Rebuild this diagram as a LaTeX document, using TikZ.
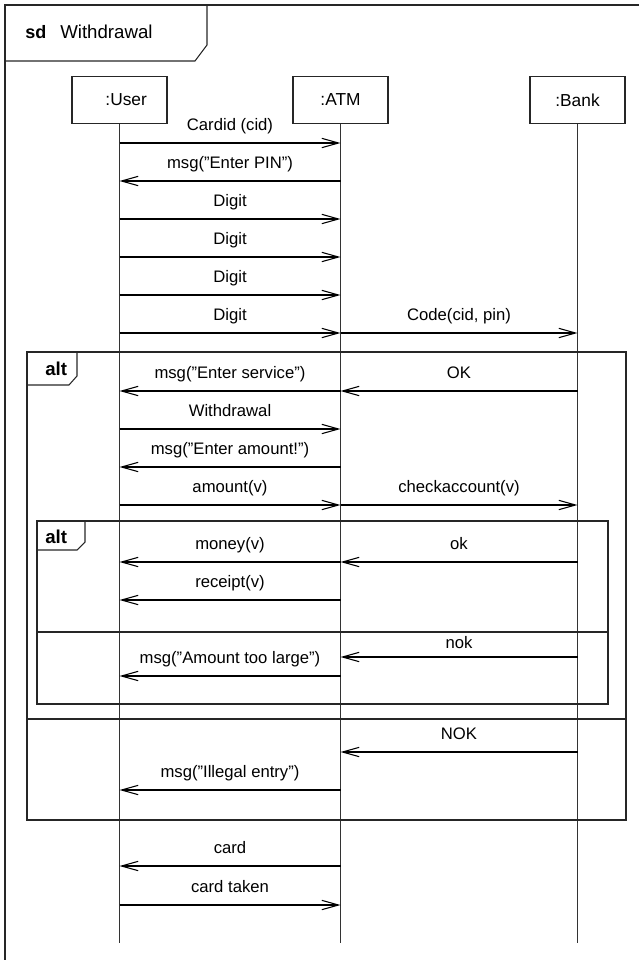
\documentclass[tikz,border=0pt]{standalone}
\usepackage{fontspec}
\setmainfont{Liberation Sans}
\usetikzlibrary{arrows.meta}
\tikzset{
  ln/.style={line width=0.8pt, draw=black!85},
  head/.style={ln, minimum width=71.25pt, minimum height=35.25pt, inner sep=0pt,
    font=\fontsize{13}{15}\selectfont},
  lifeline/.style={line width=0.8pt, draw=black!80},
  msg/.style={line width=0.8pt, draw=black, -{Straight Barb[length=12.5pt, width=7pt, line width=0.8pt]}},
  lbl/.style={anchor=base, inner sep=0pt, font=\fontsize{12.5}{15}\selectfont, text=black},
  frm/.style={line width=0.8pt, draw=black!85},
  kw/.style={anchor=base west, inner sep=0pt, font=\fontsize{14}{16}\selectfont\bfseries},
}
\newcommand\msgline[5]{% from, to, y, label, label raise
  \draw[msg] (#1 |- 0,#3) -- (#2 |- 0,#3) node[lbl, pos=0.5, yshift=#5] {#4};}
\begin{document}
\begin{tikzpicture}[x=0.75pt, y=-0.75pt]
\useasboundingbox (0,0) rectangle (639,960);
% outer sd frame
\draw[frm] (639,5) -- (5,5) -- (5,960);
\draw[frm] (5,61) -- (195,61) -- (207,45) -- (207,5);
\node[kw, font=\fontsize{13.5}{16}\selectfont\bfseries] (sdkw) at (25,38) {sd};
\node[anchor=base west, inner sep=0pt, font=\fontsize{14}{16}\selectfont] (sdname) at (60,38) {Withdrawal};
% lifeline heads
\node[head] (U) at (119.5,100) {\hspace*{10pt}:User};
\node[head] (A) at (340.5,100) {:ATM};
\node[head] (B) at (577.5,100) {:Bank};
\coordinate (Uend) at (119.5,943);
\coordinate (Aend) at (340.5,943);
\coordinate (Bend) at (577.5,943);
\draw[lifeline] (U.south) -- (Uend);
\draw[lifeline] (A.south) -- (Aend);
\draw[lifeline] (B.south) -- (Bend);
% outer alt
\draw[frm] (27,352) rectangle (626,820);
\draw[frm] (27,385) -- (69,385) -- (77,376) -- (77,352);
\draw[frm] (27,719) -- (626,719);
\node[kw] (alt1) at (45,375) {alt};
% inner alt
\draw[frm] (37,521) rectangle (608,704);
\draw[frm] (37,550) -- (77,550) -- (85,542) -- (85,521);
\draw[frm] (37,632) -- (608,632);
\node[kw] (alt2) at (45,543) {alt};
% messages
\msgline{U}{A}{143}{Cardid (cid)}{9.75pt}
\msgline{A}{U}{181}{msg(”Enter PIN”)}{9.75pt}
\msgline{U}{A}{219}{Digit}{9.75pt}
\msgline{U}{A}{257}{Digit}{9.75pt}
\msgline{U}{A}{295}{Digit}{9.75pt}
\msgline{U}{A}{333}{Digit}{9.75pt}
\msgline{A}{B}{333}{Code(cid, pin)}{9.75pt}
\msgline{A}{U}{391}{msg(”Enter service”)}{9.75pt}
\msgline{B}{A}{391}{OK}{9.75pt}
\msgline{U}{A}{429}{Withdrawal}{9.75pt}
\msgline{A}{U}{467}{msg("Enter amount!")}{9.75pt}
\msgline{U}{A}{505}{amount(v)}{9.75pt}
\msgline{A}{B}{505}{checkaccount(v)}{9.75pt}
\msgline{A}{U}{562}{money(v)}{9.75pt}
\msgline{B}{A}{562}{ok}{9.75pt}
\msgline{A}{U}{600}{receipt(v)}{9.75pt}
\msgline{B}{A}{657}{nok}{6.75pt}
\msgline{A}{U}{676}{msg(”Amount too large”)}{9.75pt}
\msgline{B}{A}{752}{NOK}{9.75pt}
\msgline{A}{U}{790}{msg(”Illegal entry”)}{9.75pt}
\msgline{A}{U}{866}{card}{9.75pt}
\msgline{U}{A}{905}{card taken}{9.75pt}
\end{tikzpicture}
\end{document}
